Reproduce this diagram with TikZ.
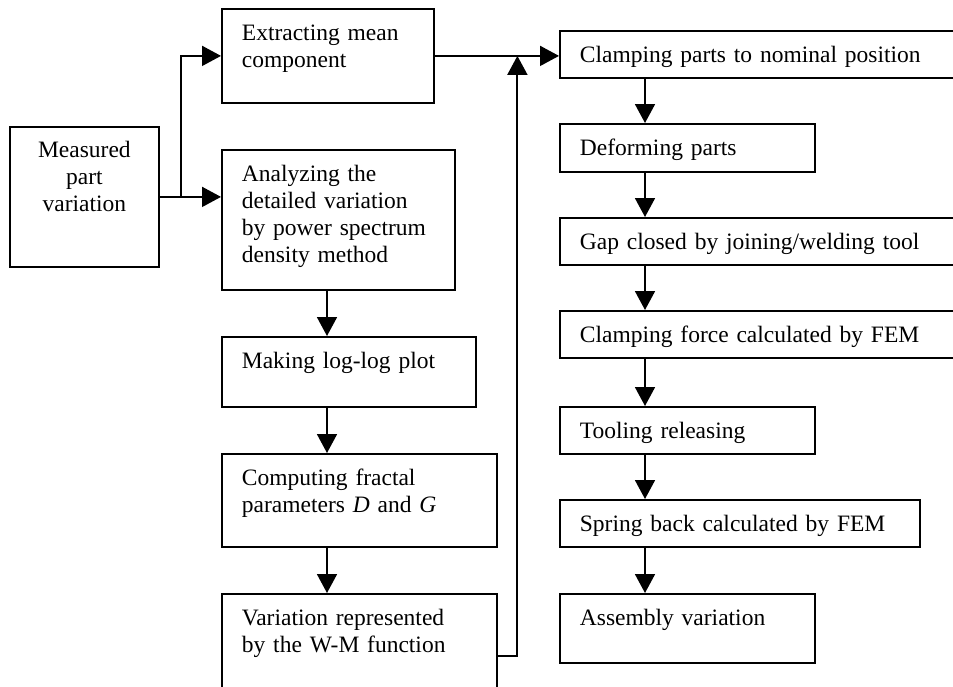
\documentclass[tikz,border=0pt]{standalone}
\usepackage{fontspec}
\setmainfont{Liberation Serif}
\usetikzlibrary{arrows.meta,calc}

\begin{document}
\begin{tikzpicture}[x=1pt, y=-1pt,
    every node/.style={font=\fontsize{23.5}{27}\selectfont},
    stage/.style={draw, line width=1.8pt, anchor=north west, inner xsep=20pt, inner ysep=0pt, align=left, text height=32pt},
    flow/.style={line width=1.8pt, -{Triangle[length=19pt, width=20pt]}}]
    \useasboundingbox (0,0) rectangle (953,686);
    \clip (0,0) rectangle (953,686);
    \node[stage, inner xsep=0pt, align=center, text width=149pt, text height=31pt, text depth=109pt] (measured) at (9,126) {Measured\\part\\variation};
    \node[stage, text width=172pt, text depth=62pt] (extract) at (221,8) {Extracting mean\\component};
    \node[stage, text width=193pt, text depth=108pt] (analyze) at (221,149) {Analyzing the\\detailed variation\\by power spectrum\\density method};
    \node[stage, text width=214pt, text depth=38pt] (loglog) at (221,336) {Making log-log plot};
    \node[stage, text width=235pt, text depth=61pt] (fractal) at (221,453) {Computing fractal\\parameters \textit{D} and \textit{G}};
    \node[stage, text width=235pt, text depth=92pt] (wmfunc) at (221,593) {Variation represented\\by the W-M function};
    \node[stage, text width=420pt, text depth=15pt] (clamp) at (559,30) {Clamping parts to nominal position};
    \node[stage, text width=215pt, text depth=16pt] (deform) at (559,123) {Deforming parts};
    \node[stage, text width=420pt, text depth=15pt] (gap) at (559,217) {Gap closed by joining/welding tool};
    \node[stage, text width=420pt, text depth=15pt] (force) at (559,310) {Clamping force calculated by FEM};
    \node[stage, text width=215pt, text depth=15pt] (release) at (559,406) {Tooling releasing};
    \node[stage, text width=320pt, text depth=15pt] (spring) at (559,499) {Spring back calculated by FEM};
    \node[stage, text width=215pt, text depth=37pt] (assembly) at (559,593) {Assembly variation};

    \path (measured.east) ++(21,0) coordinate (split);
    \draw[flow] (measured.east) -- (measured.east -| analyze.west);
    \draw[flow] (split) |- (extract.west);
    \draw[flow] (extract.east) -- (extract.east -| clamp.west);
    \draw[flow] (wmfunc.east) -| ($(extract.east)!0.665!(extract.east -| clamp.west)$);
    \draw[flow] ([xshift=106pt]analyze.south west) -- ([xshift=106pt]loglog.north west);
    \draw[flow] ([xshift=106pt]loglog.south west) -- ([xshift=106pt]fractal.north west);
    \draw[flow] ([xshift=106pt]fractal.south west) -- ([xshift=106pt]wmfunc.north west);
    \draw[flow] ([xshift=86pt]clamp.south west) -- ([xshift=86pt]deform.north west);
    \draw[flow] ([xshift=86pt]deform.south west) -- ([xshift=86pt]gap.north west);
    \draw[flow] ([xshift=86pt]gap.south west) -- ([xshift=86pt]force.north west);
    \draw[flow] ([xshift=86pt]force.south west) -- ([xshift=86pt]release.north west);
    \draw[flow] ([xshift=86pt]release.south west) -- ([xshift=86pt]spring.north west);
    \draw[flow] ([xshift=86pt]spring.south west) -- ([xshift=86pt]assembly.north west);
\end{tikzpicture}
\end{document}
